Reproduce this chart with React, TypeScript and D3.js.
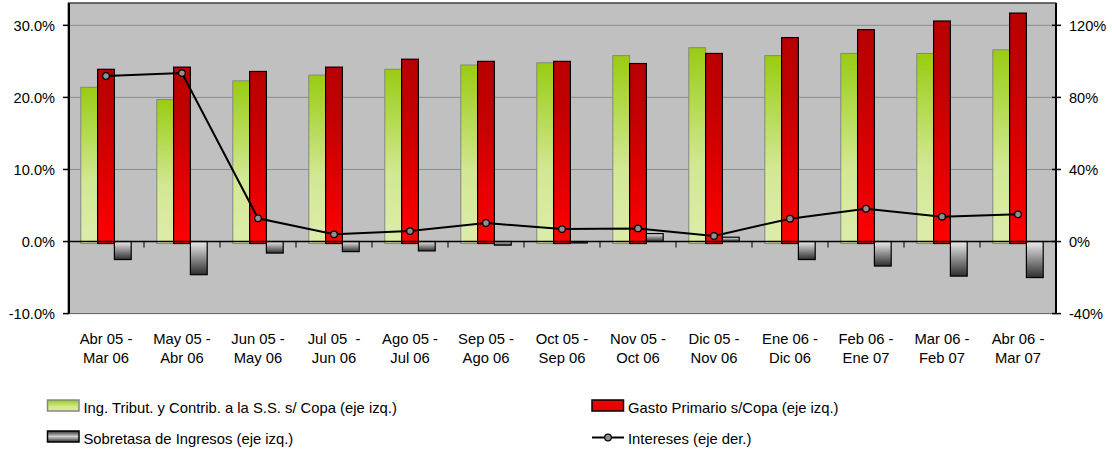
import React from "react";
import * as d3 from "d3";

const categories = [
  ["Abr 05 -", "Mar 06"],
  ["May 05 -", "Abr 06"],
  ["Jun 05 -", "May 06"],
  ["Jul 05  -", "Jun 06"],
  ["Ago 05 -", "Jul 06"],
  ["Sep 05 -", "Ago 06"],
  ["Oct 05 -", "Sep 06"],
  ["Nov 05 -", "Oct 06"],
  ["Dic 05 -", "Nov 06"],
  ["Ene 06 -", "Dic 06"],
  ["Feb 06 -", "Ene 07"],
  ["Mar 06 -", "Feb 07"],
  ["Abr 06 -", "Mar 07"],
];

const ingresos = [21.4, 19.7, 22.3, 23.1, 23.9, 24.5, 24.8, 25.8, 26.9, 25.8, 26.1, 26.1, 26.6];
const gasto = [23.9, 24.2, 23.6, 24.2, 25.3, 25.0, 25.0, 24.7, 26.1, 28.3, 29.4, 30.6, 31.7];
const sobretasa = [-2.5, -4.6, -1.6, -1.4, -1.3, -0.5, -0.2, 1.1, 0.6, -2.5, -3.4, -4.8, -5.0];
const intereses = [91.9, 93.5, 12.9, 4.0, 5.8, 10.3, 6.9, 7.3, 3.1, 12.7, 18.2, 13.8, 15.1];

const leftTicks = [-10, 0, 10, 20, 30];
const rightTicks = [-40, 0, 40, 80, 120];

const legendItems = [
  { label: "Ing. Tribut. y Contrib. a la S.S. s/ Copa (eje izq.)", kind: "green" },
  { label: "Gasto Primario s/Copa (eje izq.)", kind: "red" },
  { label: "Sobretasa de Ingresos (eje izq.)", kind: "gray" },
  { label: "Intereses (eje der.)", kind: "line" },
];

const W = 1112;
const H = 457;
const X0 = 68;
const X1 = 1056;
const Y0 = 313.6;
const Y1 = 3;
const FONT = "'Liberation Sans', Arial, sans-serif";

export default function App() {
  const x = d3.scaleBand<number>().domain(d3.range(categories.length)).range([X0, X1]);
  const yL = d3.scaleLinear().domain([-10, 33.1]).range([Y0, Y1]);
  const yR = d3.scaleLinear().domain([-40, 132.4]).range([Y0, Y1]);
  const bw = 16.8;
  const cx = (i: number) => (x(i) as number) + x.bandwidth() / 2;
  const barRect = (v: number) => ({ y: Math.min(yL(v), yL(0)), h: Math.abs(yL(v) - yL(0)) });
  const line = d3
    .line<number>()
    .x((_, i) => cx(i))
    .y((d) => yR(d));

  return (
    <svg width={W} height={H} style={{ position: "absolute", left: 0, top: 0 }} fontFamily={FONT}>
      <defs>
        <linearGradient id="gGreen" x1="0" y1="0" x2="0" y2="1">
          <stop offset="0" stopColor="#99cc11" />
          <stop offset="0.6" stopColor="#d2e894" />
          <stop offset="1" stopColor="#dcedaa" />
        </linearGradient>
        <linearGradient id="gRed" x1="0" y1="0" x2="0" y2="1">
          <stop offset="0" stopColor="#b80000" />
          <stop offset="0.3" stopColor="#c40000" />
          <stop offset="1" stopColor="#ff0000" />
        </linearGradient>
        <linearGradient id="gGray" x1="0" y1="0" x2="0" y2="1">
          <stop offset="0" stopColor="#ececec" />
          <stop offset="1" stopColor="#2e2e2e" />
        </linearGradient>
        <linearGradient id="gGrayLeg" x1="0" y1="0" x2="0" y2="1">
          <stop offset="0" stopColor="#2e2e2e" />
          <stop offset="0.5" stopColor="#d0d0d0" />
          <stop offset="1" stopColor="#2e2e2e" />
        </linearGradient>
      </defs>
      <rect width={W} height={H} fill="#ffffff" />
      {/* plot area */}
      <rect x={X0} y={Y1} width={X1 - X0} height={Y0 - Y1} fill="#c0c0c0" stroke="#606060" strokeWidth={1} />
      {leftTicks
        .filter((t) => t > 0)
        .map((t) => (
          <line key={t} x1={X0} x2={X1} y1={yL(t)} y2={yL(t)} stroke="#8a8a8a" strokeWidth={1} />
        ))}
      {/* bars */}
      {categories.map((_, i) => {
        const c = cx(i);
        const g = barRect(ingresos[i]);
        const r = barRect(gasto[i]);
        const s = barRect(sobretasa[i]);
        return (
          <g key={i}>
            <rect x={c - 1.5 * bw} y={g.y} width={bw} height={g.h + 2} fill="url(#gGreen)" stroke="#868686" strokeWidth={1} />
            <rect x={c - 0.5 * bw} y={r.y} width={bw} height={r.h + 2} fill="url(#gRed)" stroke="#000" strokeWidth={1.2} />
            <rect x={c + 0.5 * bw} y={s.y} width={bw} height={s.h} fill="url(#gGray)" stroke="#000" strokeWidth={1.2} />
          </g>
        );
      })}
      {/* zero line and category ticks */}
      <line x1={X0} x2={X1} y1={yL(0)} y2={yL(0)} stroke="#000" strokeWidth={1.5} />
      {d3.range(1, categories.length).map((i) => (
        <line key={i} x1={x(i) as number} x2={x(i) as number} y1={yL(0)} y2={yL(0) + 6} stroke="#000" strokeWidth={1} />
      ))}
      {/* axes */}
      <line x1={X0 + 1} x2={X0 + 1} y1={Y1} y2={Y0} stroke="#000" strokeWidth={2} />
      <line x1={X1} x2={X1} y1={Y1} y2={Y0} stroke="#000" strokeWidth={2} />
      <line x1={X0} x2={X1} y1={Y1} y2={Y1} stroke="#303030" strokeWidth={1} />
      {leftTicks.map((t) => (
        <g key={t}>
          <line x1={X0 - 5} x2={X0 + 1} y1={yL(t)} y2={yL(t)} stroke="#000" strokeWidth={1.5} />
          <text x={55} y={yL(t)} dy="0.36em" textAnchor="end" fontSize={14.6} fill="#000">
            {t.toFixed(1) + "%"}
          </text>
        </g>
      ))}
      {rightTicks.map((t) => (
        <g key={t}>
          <line x1={X1 - 4} x2={X1 + 5} y1={yR(t)} y2={yR(t)} stroke="#000" strokeWidth={1.5} />
          <text x={1069} y={yR(t)} dy="0.36em" textAnchor="start" fontSize={14.6} fill="#000">
            {t + "%"}
          </text>
        </g>
      ))}
      {/* line series */}
      <path d={line(intereses) || ""} fill="none" stroke="#000" strokeWidth={2} />
      {intereses.map((v, i) => (
        <circle key={i} cx={cx(i)} cy={yR(v)} r={3.3} fill="#909090" stroke="#000" strokeWidth={1.2} />
      ))}
      {/* x labels */}
      {categories.map((lab, i) => (
        <text key={i} x={cx(i)} textAnchor="middle" fontSize={14.8} fill="#000" style={{ whiteSpace: "pre" }}>
          <tspan x={cx(i)} y={344}>{lab[0]}</tspan>
          <tspan x={cx(i)} y={363}>{lab[1]}</tspan>
        </text>
      ))}
      {/* legend */}
      {legendItems.map((it, k) => {
        const lx = k % 2 === 0 ? 47.5 : 592;
        const ly = k < 2 ? 400 : 431;
        return (
          <g key={k}>
            {it.kind === "line" ? (
              <g>
                <line x1={lx} x2={lx + 32} y1={ly + 6.5} y2={ly + 6.5} stroke="#000" strokeWidth={2} />
                <circle cx={lx + 16} cy={ly + 6.5} r={3.3} fill="#909090" stroke="#000" strokeWidth={1.2} />
              </g>
            ) : (
              <rect
                x={lx}
                y={ly}
                width={31.5}
                height={11}
                fill={it.kind === "green" ? "url(#gGreen)" : it.kind === "red" ? "#ee0000" : "url(#gGrayLeg)"}
                stroke={it.kind === "green" ? "#868686" : "#000"}
                strokeWidth={1.5}
              />
            )}
            <text x={lx + 36} y={ly + 12.5} fontSize={14.8} fill="#000">
              {it.label}
            </text>
          </g>
        );
      })}
    </svg>
  );
}
